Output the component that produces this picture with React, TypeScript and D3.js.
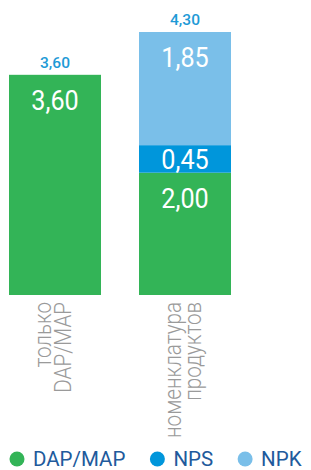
import { useMemo } from "react";
import * as d3 from "d3";

const categories = ["только DAP/MAP", "номенклатура продуктов"];
const categoryLines = [
  ["только", "DAP/MAP"],
  ["номенклатура", "продуктов"],
];
const seriesKeys = ["DAP/MAP", "NPS", "NPK"];
const dapMapValues = [3.6, 2.0];
const npsValues = [0, 0.45];
const npkValues = [0, 1.85];
const totalValues = [3.6, 4.3];
const seriesColors = ["#33b457", "#0096db", "#7abfe9"];

const width = 311;
const height = 470;
const baseY = 295;
const topY = 32;

const ruLocale = d3.formatLocale({
  decimal: ",",
  thousands: " ",
  grouping: [3],
  currency: ["", " ₽"],
});
const fmt = ruLocale.format(".2f");

const font = "Roboto, 'Noto Sans', sans-serif";

function measure(text: string, size: number, weight = 400) {
  const ctx = document.createElement("canvas").getContext("2d");
  if (!ctx) return text.length * size * 0.6;
  ctx.font = `${weight} ${size}px Roboto`;
  return ctx.measureText(text).width;
}

const App = () => {
  const rows = categories.map((c, i) => ({
    category: c,
    "DAP/MAP": dapMapValues[i],
    NPS: npsValues[i],
    NPK: npkValues[i],
  }));

  const stacked = d3.stack<any>().keys(seriesKeys)(rows);

  const x = d3
    .scaleBand()
    .domain(categories)
    .range([9, 231])
    .paddingInner(38 / 130)
    .paddingOuter(0);

  const y = d3
    .scaleLinear()
    .domain([0, d3.max(totalValues) as number])
    .range([baseY, topY]);

  const color = d3.scaleOrdinal<string, string>().domain(seriesKeys).range(seriesColors);

  // legend layout: circle, gap, label, gap
  const legendItems = useMemo(() => {
    let cx = 17;
    return seriesKeys.map((k) => {
      const item = { key: k, cx };
      const w = measure(k, 20.5);
      cx = cx + 16 + w + 32;
      return item;
    });
  }, []);

  return (
    <svg
      width={width}
      height={height}
      style={{ position: "absolute", left: 0, top: 0 }}
      fontFamily={font}
    >
      {stacked.map((s) =>
        s.map((d, i) => {
          const h = y(d[0]) - y(d[1]);
          if (h <= 0) return null;
          return (
            <rect
              key={`${s.key}-${i}`}
              x={x(categories[i])}
              y={y(d[1])}
              width={x.bandwidth()}
              height={h}
              fill={color(s.key)}
            />
          );
        })
      )}

      {/* segment values */}
      {stacked.map((s) =>
        s.map((d, i) => {
          const v = d[1] - d[0];
          if (v <= 0) return null;
          const top = y(d[1]);
          const h = y(d[0]) - top;
          const by = h > 50 ? top + 35 : top + h / 2 + 10;
          const cx = (x(categories[i]) as number) + x.bandwidth() / 2;
          return (
            <text
              key={`lbl-${s.key}-${i}`}
              transform={`translate(${cx},${by}) scale(0.9,1)`}
              textAnchor="middle"
              fill="#ffffff"
              fontSize={28}
            >
              {fmt(v)}
            </text>
          );
        })
      )}

      {/* totals */}
      {totalValues.map((t, i) => (
        <text
          key={`tot-${i}`}
          x={(x(categories[i]) as number) + x.bandwidth() / 2}
          y={y(t) - 7}
          textAnchor="middle"
          fill="#1e9ad6"
          fontSize={15.5}
          fontWeight={500}
        >
          {fmt(t)}
        </text>
      ))}

      {/* category labels */}
      {categories.map((c, i) => {
        const cx = (x(c) as number) + x.bandwidth() / 2;
        return (
          <g key={`cat-${i}`} transform={`translate(${cx},302) rotate(-90) scale(0.86,1)`}>
            {categoryLines[i].map((line, j) => (
              <text
                key={j}
                x={0}
                y={-4.5 + j * 20.5}
                textAnchor="end"
                fill="#9a9a9a"
                fontSize={24}
                fontWeight={300}
              >
                {line}
              </text>
            ))}
          </g>
        );
      })}

      {/* legend */}
      {legendItems.map((it) => (
        <g key={it.key}>
          <circle cx={it.cx} cy={459} r={7.5} fill={color(it.key)} />
          <text x={it.cx + 16} y={466} fill="#215a9c" fontSize={20.5}>
            {it.key}
          </text>
        </g>
      ))}
    </svg>
  );
};

export default App;
